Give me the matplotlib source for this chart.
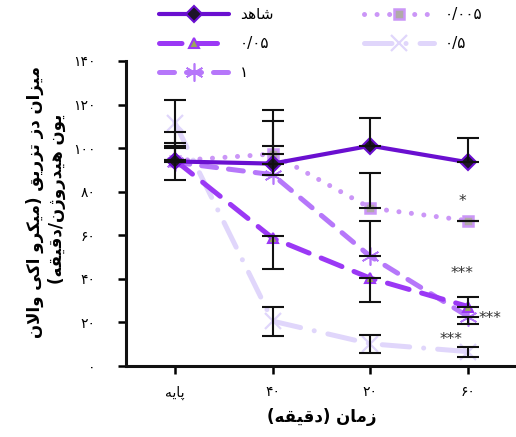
import matplotlib
matplotlib.use("Agg")
import matplotlib.pyplot as plt

# ---------------- data ----------------
categories = ['پایه', '۴۰', '۲۰', '۶۰']
yticks = [0, 20, 40, 60, 80, 100, 120, 140]
ytick_labels = ['۰', '۲۰', '۴۰', '۶۰', '۸۰', '۱۰۰', '۱۲۰', '۱۴۰']

series_names = ['شاهد', '۰/۰۵', '۱', '۰/۰۰۵', '۰/۵']
control = [93.9, 92.9, 101.1, 93.5]
d0005 = [94.2, 97.3, 72.5, 66.7]
d005 = [94.5, 58.7, 40.3, 27.3]
d05 = [111.6, 20.6, 10.2, 6.6]
d1 = [93.5, 87.8, 50.3, 22.7]

# error bars (lower, upper)
control_err = ([8.5, 0, 0, 0], [8.5, 24.8, 12.8, 11.0])
d0005_err = ([0, 0, 0, 0], [13.0, 15.3, 16.1, 0])
d005_err = ([0, 14.0, 10.7, 0], [0, 1.0, 0, 4.6])
d05_err = ([10.5, 6.6, 4.2, 2.3], [10.5, 6.6, 4.2, 2.3])
d1_err = ([0, 0, 0, 3.5], [6.6, 13.0, 16.1, 0])

sig_text = ['*', '***', '***', '***']
sig_x = [3.94, 3.94, 4.22, 3.82]
sig_y = [75.5, 42.6, 21.9, 12.0]

xlabel = 'زمان (دقیقه)'
ylabel1 = 'میزان دز تزریق (میکرو اکی والان'
ylabel2 = 'یون هیدروژن/دقیقه)'

# ---------------- Persian shaping ----------------
FORMS = {
    '\u0627': ('\uFE8D', '\uFE8E', None, None),
    '\u062F': ('\uFEA9', '\uFEAA', None, None),
    '\u0631': ('\uFEAD', '\uFEAE', None, None),
    '\u0632': ('\uFEAF', '\uFEB0', None, None),
    '\u0698': ('\uFB8A', '\uFB8B', None, None),
    '\u0648': ('\uFEED', '\uFEEE', None, None),
    '\u062A': ('\uFE95', '\uFE96', '\uFE97', '\uFE98'),
    '\u0634': ('\uFEB5', '\uFEB6', '\uFEB7', '\uFEB8'),
    '\u0642': ('\uFED5', '\uFED6', '\uFED7', '\uFED8'),
    '\u0644': ('\uFEDD', '\uFEDE', '\uFEDF', '\uFEE0'),
    '\u0645': ('\uFEE1', '\uFEE2', '\uFEE3', '\uFEE4'),
    '\u0646': ('\uFEE5', '\uFEE6', '\uFEE7', '\uFEE8'),
    '\u0647': ('\uFEE9', '\uFEEA', '\uFEEB', '\uFEEC'),
    '\u06CC': ('\uFBFC', '\uFBFD', '\uFBFE', '\uFBFF'),
    '\u064A': ('\uFEF1', '\uFEF2', '\uFEF3', '\uFEF4'),
    '\u06A9': ('\uFB8E', '\uFB8F', '\uFB90', '\uFB91'),
    '\u0643': ('\uFED9', '\uFEDA', '\uFEDB', '\uFEDC'),
    '\u067E': ('\uFB56', '\uFB57', '\uFB58', '\uFB59'),
}


def _joins_next(c):
    return c in FORMS and FORMS[c][2] is not None


def fa(s):
    chars = list(s)
    n = len(chars)
    res = []
    i = 0
    while i < n:
        c = chars[i]
        if c not in FORMS:
            res.append(c)
            i += 1
            continue
        pc = i > 0 and _joins_next(chars[i - 1])
        if c == '\u0644' and i + 1 < n and chars[i + 1] == '\u0627':
            res.append('\uFEFC' if pc else '\uFEFB')
            i += 2
            continue
        nc = _joins_next(c) and i + 1 < n and chars[i + 1] in FORMS
        iso, fin, ini, med = FORMS[c]
        if pc and nc:
            g = med
        elif pc:
            g = fin
        elif nc:
            g = ini
        else:
            g = iso
        res.append(g)
        i += 1
    res = res[::-1]
    mirror = {'(': ')', ')': '('}
    return ''.join(mirror.get(c, c) for c in res)


DIGITS = '0123456789۰۱۲۳۴۵۶۷۸۹'


def label_text(s):
    return s if s[0] in DIGITS else fa(s)


# ---------------- figure ----------------
plt.rcParams['font.family'] = ['DejaVu Sans']
fig = plt.figure(figsize=(5.16, 4.37), dpi=100)
ax = fig.add_axes([126 / 516, (437 - 366) / 437, 391 / 516, 305 / 437])

x = list(range(1, len(categories) + 1))

styles = [
    dict(data=control, err=control_err, color='#6a0fd0', ls='-', lw=3.0,
         marker='D', ms=8.5, mfc='#1e1428', mec='#6a0fd0', mew=1.5, z=6),
    dict(data=d005, err=d005_err, color='#9b38f5', ls=(0, (4.5, 2.6)), lw=3.6,
         marker='^', ms=7, mfc='#9aa858', mec='#9b38f5', mew=1.5, z=5),
    dict(data=d1, err=d1_err, color='#b677fa', ls=(0, (3.0, 2.4)), lw=3.6,
         marker=(6, 2, 0), ms=13, mfc='#b677fa', mec='#b677fa', mew=1.2, z=4),
    dict(data=d0005, err=d0005_err, color='#cb96f7', ls=(0, (0.01, 2.5)), lw=3.6,
         marker='s', ms=6.5, mfc='#b0aaa8', mec='#cb96f7', mew=1.8, z=3),
    dict(data=d05, err=d05_err, color='#e0d6fb', ls=(0, (5.5, 2.8, 0.01, 2.8)), lw=3.6,
         marker='x', ms=11, mfc='#e0d6fb', mec='#e0d6fb', mew=1.6, z=2),
]

handles = []
for st in styles:
    ax.errorbar(x, st['data'], yerr=[st['err'][0], st['err'][1]], fmt='none',
                ecolor='#111111', elinewidth=1.5, capsize=8, capthick=1.5,
                zorder=7)
    ln, = ax.plot(x, st['data'], color=st['color'], linestyle=st['ls'],
                  linewidth=st['lw'], marker=st['marker'], markersize=st['ms'],
                  markerfacecolor=st['mfc'], markeredgecolor=st['mec'],
                  markeredgewidth=st['mew'], zorder=st['z'],
                  dash_capstyle='round', solid_capstyle='round')
    handles.append(ln)

for t, sx, sy in zip(sig_text, sig_x, sig_y):
    ax.text(sx, sy, t, ha='center', va='center', fontsize=11, color='#333333',
            zorder=8)

ax.set_xlim(0.5, 4.5)
ax.set_ylim(0, 140)
ax.set_xticks(x)
ax.set_xticklabels([label_text(c) for c in categories], fontsize=10)
ax.set_yticks(yticks)
ax.set_yticklabels(ytick_labels, fontsize=10)

for s in ['top', 'right']:
    ax.spines[s].set_visible(False)
for s in ['left', 'bottom']:
    ax.spines[s].set_linewidth(2.2)
    ax.spines[s].set_color('#111111')
ax.tick_params(axis='y', direction='out', length=6, width=1.8, pad=16)
ax.tick_params(axis='x', direction='out', length=6, width=1.8, pad=8)
for art in ax.lines:
    art.set_clip_on(False)

ax.set_xlabel(fa(xlabel), fontsize=12, fontweight='bold', labelpad=6)
fig.text(35 / 516, 1 - 202 / 437, fa(ylabel1), rotation=90, ha='center',
         va='center', fontsize=12, fontweight='bold')
fig.text(57 / 516, 1 - 199 / 437, fa(ylabel2), rotation=90, ha='center',
         va='center', fontsize=12, fontweight='bold')

fig.legend(handles, [label_text(n) for n in series_names], loc='upper left',
           bbox_to_anchor=(159 / 516, 1 - 7 / 437), ncol=2, frameon=False,
           fontsize=11, handlelength=4.6, handletextpad=0.7,
           columnspacing=5.9, labelspacing=0.92, borderpad=0,
           borderaxespad=0)

fig.savefig('out.png', dpi=100)
